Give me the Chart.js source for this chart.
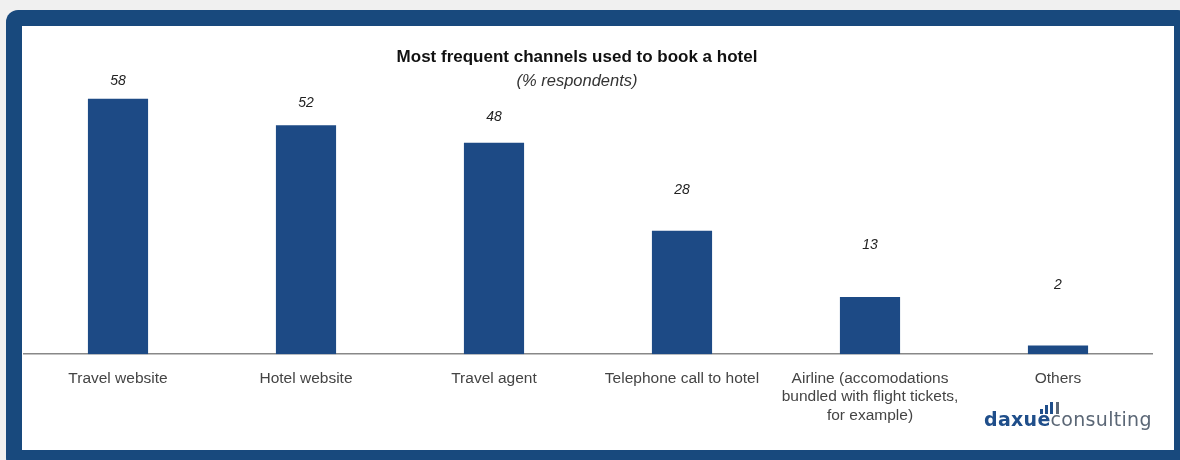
<!DOCTYPE html>
<html>
<head>
<meta charset="utf-8">
<script src="https://cdn.jsdelivr.net/npm/chart.js@4"></script>
<style>
html,body{margin:0;padding:0;}
body{width:1180px;height:460px;background:#f0f0f0;position:relative;overflow:hidden;font-family:"Liberation Sans",Arial,sans-serif;}
#frame{position:absolute;left:6px;top:10px;width:1184px;height:460px;background:#18497d;border-radius:12px;}
#panel{position:absolute;left:22px;top:26px;width:1152px;height:424px;background:#fff;}
#panel canvas{position:absolute;left:0;top:0;}
.head{position:absolute;left:377px;width:400px;text-align:center;line-height:20px;white-space:nowrap;}
#title{top:47px;font-size:17px;font-weight:bold;color:#111;}
#subtitle{top:70px;font-size:16.5px;font-style:italic;color:#333;}
#logo{position:absolute;left:984px;top:410px;font-family:"DejaVu Sans",sans-serif;font-size:19px;line-height:19px;letter-spacing:0.3px;white-space:nowrap;}
#logo .a{color:#1f4e8a;font-weight:bold;}
#logo .b{color:#5b6776;}
#icon{position:absolute;left:1040px;top:402px;height:12px;width:20px;}
#icon i{position:absolute;bottom:0;width:3px;background:#1f4e8a;}
</style>
</head>
<body>
<div id="frame"></div>
<div id="panel"><canvas id="hotelChart" width="1152" height="424"></canvas></div>
<div id="title" class="head">Most frequent channels used to book a hotel</div>
<div id="subtitle" class="head">(% respondents)</div>
<div id="icon"><i style="left:0;height:5px"></i><i style="left:5px;height:9px"></i><i style="left:10px;height:12px"></i><i style="left:16px;height:12px;background:#5b6776"></i></div>
<div id="logo"><span class="a">daxue</span><span class="b">consulting</span></div>
<script>
const channels = [
  "Travel website",
  "Hotel website",
  "Travel agent",
  "Telephone call to hotel",
  ["Airline (accomodations", "bundled with flight tickets,", "for example)"],
  "Others"
];
const shares = [58, 52, 48, 28, 13, 2];

const ctx = document.getElementById("hotelChart").getContext("2d");

/* value labels above the bars */
const valueLabels = {
  id: "valueLabels",
  afterDatasetsDraw(chart){
    const c = chart.ctx;
    const meta = chart.getDatasetMeta(0);
    c.save();
    c.font = "italic 14px 'Liberation Sans', Arial, sans-serif";
    c.fillStyle = "#222";
    c.textAlign = "center";
    c.textBaseline = "middle";
    meta.data.forEach((bar, i) => {
      const v = shares[i];
      // the source sheet lifts the smaller labels further off their bars
      const lift = 18 + 0.75 * (shares[0] - v);
      c.fillText(String(v), bar.x, bar.y - lift);
    });
    c.restore();
  }
};

new Chart(ctx, {
  type: "bar",
  data: {
    labels: channels,
    datasets: [{
      data: shares,
      backgroundColor: "#1d4a85",
      borderWidth: 0,
      categoryPercentage: 1,
      barPercentage: 0.32
    }]
  },
  options: {
    responsive: false,
    animation: false,
    layout: {padding: {left: 2, right: 22, top: 67, bottom: 18}},
    plugins: {
      legend: {display: false},
      tooltip: {enabled: false}
    },
    scales: {
      x: {
        grid: {display: false},
        border: {color: "#888", width: 1.5},
        ticks: {
          color: "#444",
          padding: 7,
          maxRotation: 0,
          autoSkip: false,
          font: {family: "'Liberation Sans', Arial, sans-serif", size: 15.5}
        }
      },
      y: {
        display: false,
        min: 0,
        max: 59.3
      }
    }
  },
  plugins: [valueLabels]
});
</script>
</body>
</html>
